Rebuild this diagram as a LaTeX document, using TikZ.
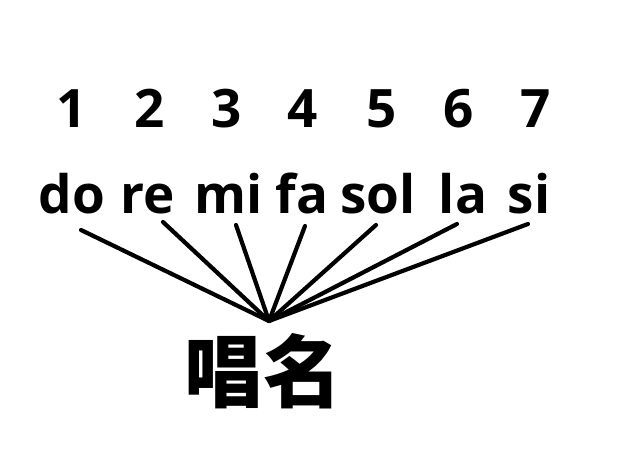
\documentclass[tikz,border=0pt]{standalone}
\usepackage{fontspec}
\setmainfont{Open Sans}
\newfontfamily\cjk{Noto Sans CJK SC}
\begin{document}
\begin{tikzpicture}[x=1pt,y=-1pt,
  num/.style={anchor=base,inner sep=0pt,font=\fontsize{53}{53}\selectfont\bfseries},
  syl/.style={anchor=base,inner sep=0pt,font=\fontsize{53}{53}\selectfont\bfseries},
  ray/.style={line width=4.2pt,line cap=round},
  title/.style={anchor=base,inner sep=0pt,font=\fontsize{79}{79}\selectfont\cjk\bfseries}]
\useasboundingbox[fill=white] (0,0) rectangle (640,473);
% numbers
\node[num] (n1) at (72,128) {1};
\node[num] (n2) at (150,128) {2};
\node[num] (n3) at (227,128) {3};
\node[num] (n4) at (303,128) {4};
\node[num] (n5) at (382,128) {5};
\node[num] (n6) at (459,128) {6};
\node[num] (n7) at (536,128) {7};
% syllables
\node[syl] (do) at (72,214) {do};
\node[syl] (re) at (148,214) {re};
\node[syl] (mi) at (229,214) {mi};
\node[syl] (fa) at (302,214) {fa};
\node[syl] (sol) at (378,214) {sol};
\node[syl] (la) at (463,214) {la};
\node[syl] (si) at (529,214) {si};
% ray ends
\coordinate (hub) at (269,321);
\coordinate (pdo) at (81,230);
\coordinate (pre) at (163,222);
\coordinate (pmi) at (236,225);
\coordinate (pfa) at (305,226);
\coordinate (psol) at (376,225);
\coordinate (pla) at (457,224);
\coordinate (psi) at (528,224);
\foreach \p in {pdo,pre,pmi,pfa,psol,pla,psi}
  \draw[ray] (\p) -- (hub);
% title
\node[title] (chang) at (263,401) {唱名};
\end{tikzpicture}
\end{document}
